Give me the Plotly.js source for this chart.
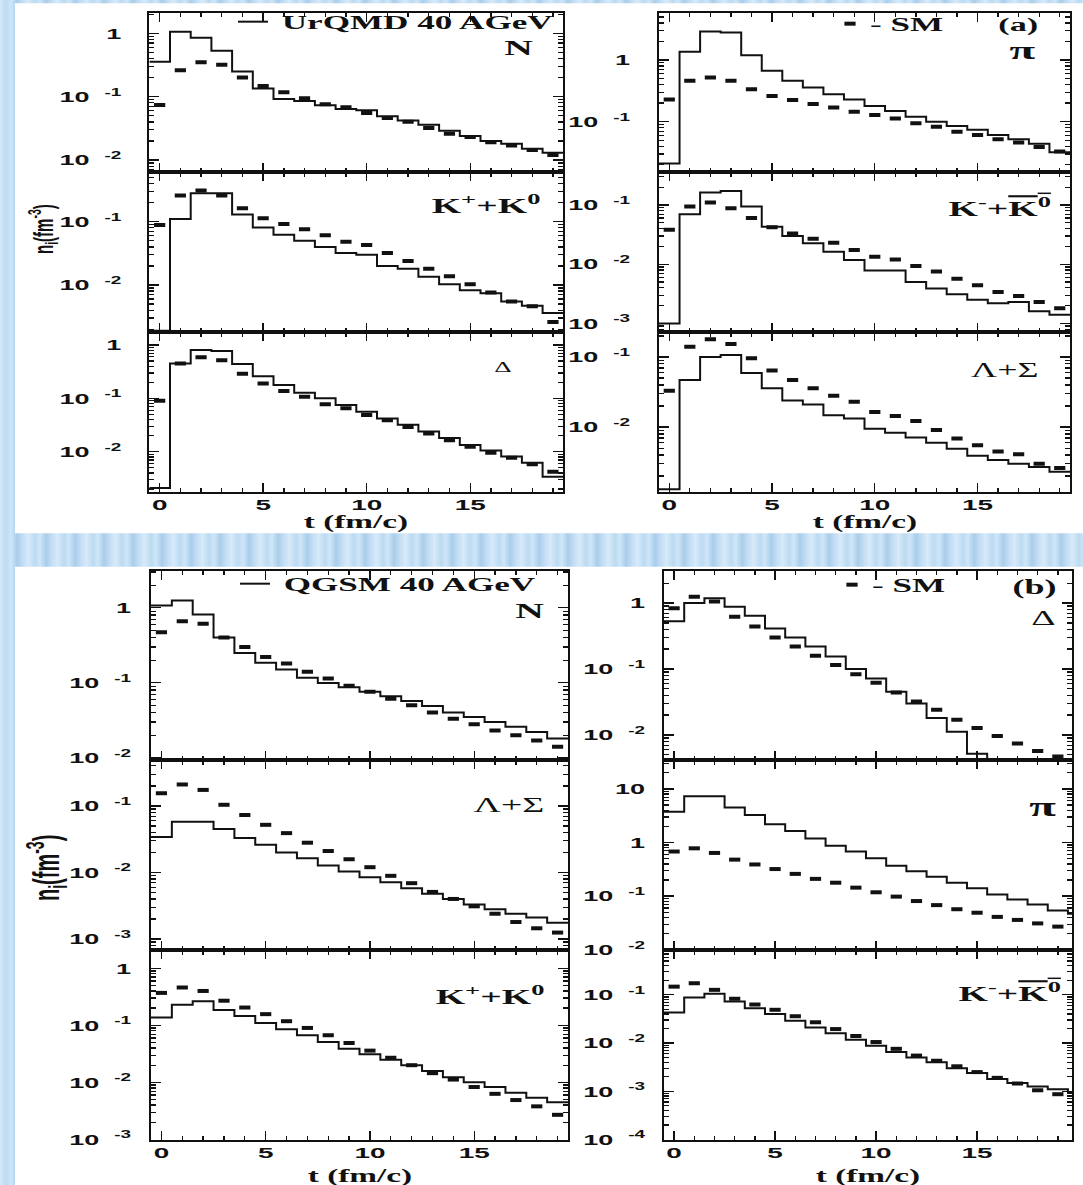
<!DOCTYPE html>
<html>
<head>
<meta charset="utf-8">
<script src="https://cdn.plot.ly/plotly-3.0.1.min.js"></script>
<style>
  html, body { margin: 0; padding: 0; }
  body {
    width: 1083px; height: 1185px; overflow: hidden;
    background: repeating-linear-gradient(90deg,
      #d4e9f9 0px, #bcdaf1 6px, #cfe6f8 11px, #a9cdeb 17px, #c4def4 23px, #d8ebfa 29px);
  }
  #fig { width: 1083px; height: 1185px; }
</style>
</head>
<body>
<div id="fig"></div>
<script>
// Time grid in fm/c; every histogram bin is 1 fm/c wide and centred on these values.
const T = [0, 1, 2, 3, 4, 5, 6, 7, 8, 9, 10, 11, 12, 13, 14, 15, 16, 17, 18, 19, 20];

// ---- (a) UrQMD 40 AGeV: transport densities (histograms) and SM values (points), fm^-3 ----
const urqmd_N     = [0.355, 1.06, 0.85, 0.53, 0.25, 0.135, 0.092, 0.085, 0.073, 0.064, 0.061, 0.049, 0.042, 0.036, 0.029, 0.024, 0.020, 0.018, 0.015, 0.013];
const smA_N       = [0.074, 0.26, 0.35, 0.32, 0.20, 0.147, 0.117, 0.094, 0.076, 0.068, 0.055, 0.046, 0.040, 0.032, 0.026, 0.023, 0.019, 0.017, 0.0144, 0.012];
const urqmd_pi    = [0.021, 1.36, 2.9, 2.8, 1.2, 0.67, 0.46, 0.36, 0.28, 0.23, 0.18, 0.149, 0.12, 0.10, 0.085, 0.074, 0.061, 0.052, 0.044, 0.032];
const smA_pi      = [0.23, 0.46, 0.52, 0.46, 0.335, 0.26, 0.225, 0.194, 0.17, 0.145, 0.128, 0.113, 0.094, 0.083, 0.069, 0.061, 0.052, 0.046, 0.039, 0.033];
const urqmd_Kp    = [0.0019, 0.11, 0.28, 0.28, 0.13, 0.081, 0.062, 0.050, 0.040, 0.032, 0.030, 0.020, 0.018, 0.0135, 0.0103, 0.0083, 0.0074, 0.0055, 0.0047, 0.0036];
const smA_Kp      = [0.089, 0.26, 0.31, 0.26, 0.163, 0.113, 0.092, 0.076, 0.061, 0.048, 0.043, 0.032, 0.024, 0.018, 0.0138, 0.0103, 0.0076, 0.0055, 0.0046, 0.0026];
const urqmd_Km    = [0.001, 0.070, 0.163, 0.173, 0.094, 0.043, 0.030, 0.0226, 0.0163, 0.0118, 0.0078, 0.0078, 0.0050, 0.0039, 0.0031, 0.0025, 0.0022, 0.0023, 0.0016, 0.0014];
const smA_Km      = [0.038, 0.094, 0.11, 0.088, 0.060, 0.042, 0.033, 0.027, 0.023, 0.0174, 0.0134, 0.012, 0.0093, 0.0075, 0.0057, 0.0044, 0.0034, 0.0029, 0.0023, 0.0018];
const urqmd_Delta = [0.0021, 0.45, 0.81, 0.77, 0.44, 0.26, 0.178, 0.128, 0.10, 0.075, 0.056, 0.042, 0.032, 0.024, 0.018, 0.0134, 0.0105, 0.0081, 0.0062, 0.0034];
const smA_Delta   = [0.090, 0.45, 0.59, 0.52, 0.29, 0.19, 0.138, 0.107, 0.078, 0.065, 0.049, 0.039, 0.029, 0.022, 0.0165, 0.0124, 0.0096, 0.0077, 0.0058, 0.0042];
const urqmd_LS    = [0.0013, 0.047, 0.10, 0.107, 0.059, 0.036, 0.024, 0.021, 0.0148, 0.0133, 0.0095, 0.0083, 0.0071, 0.0060, 0.0049, 0.0039, 0.0034, 0.0030, 0.0027, 0.0023];
const smA_LS      = [0.033, 0.14, 0.18, 0.154, 0.096, 0.064, 0.047, 0.036, 0.028, 0.023, 0.0165, 0.0144, 0.0122, 0.0091, 0.0069, 0.0055, 0.0045, 0.0041, 0.0030, 0.0026];

// ---- (b) QGSM 40 AGeV ----
const qgsm_N      = [1.07, 1.25, 0.81, 0.40, 0.25, 0.185, 0.15, 0.117, 0.099, 0.087, 0.076, 0.066, 0.057, 0.049, 0.040, 0.035, 0.030, 0.026, 0.022, 0.018];
const smB_N       = [0.47, 0.66, 0.61, 0.40, 0.30, 0.22, 0.18, 0.14, 0.114, 0.091, 0.076, 0.061, 0.050, 0.040, 0.033, 0.028, 0.023, 0.020, 0.017, 0.014];
const qgsm_Delta  = [0.53, 1.0, 1.18, 0.88, 0.64, 0.41, 0.30, 0.22, 0.154, 0.10, 0.072, 0.045, 0.030, 0.018, 0.0112, 0.0052, 0.0025, 0.0025, 0.0025, 0.0025, 0.0025];
const smB_Delta   = [0.83, 1.24, 1.05, 0.62, 0.44, 0.30, 0.22, 0.158, 0.115, 0.083, 0.062, 0.044, 0.032, 0.024, 0.017, 0.0127, 0.0096, 0.0074, 0.0057, 0.0047];
const qgsm_LS     = [0.034, 0.058, 0.058, 0.045, 0.033, 0.026, 0.020, 0.0163, 0.0127, 0.0103, 0.0085, 0.0071, 0.0058, 0.0048, 0.0040, 0.0033, 0.0028, 0.0024, 0.0021, 0.00175];
const smB_LS      = [0.155, 0.21, 0.174, 0.104, 0.073, 0.052, 0.039, 0.028, 0.021, 0.0158, 0.012, 0.0089, 0.0069, 0.0051, 0.0040, 0.0031, 0.0024, 0.0018, 0.00145, 0.00125];
const qgsm_pi     = [3.76, 7.3, 7.3, 4.5, 3.25, 2.19, 1.65, 1.19, 0.87, 0.68, 0.51, 0.37, 0.29, 0.23, 0.178, 0.14, 0.107, 0.087, 0.070, 0.054, 0.047];
const smB_pi      = [0.68, 0.78, 0.64, 0.48, 0.39, 0.32, 0.26, 0.21, 0.178, 0.144, 0.118, 0.098, 0.081, 0.068, 0.057, 0.049, 0.041, 0.036, 0.031, 0.027];
const qgsm_Kp     = [0.137, 0.23, 0.265, 0.185, 0.145, 0.11, 0.085, 0.067, 0.051, 0.039, 0.031, 0.025, 0.020, 0.0158, 0.0123, 0.010, 0.0083, 0.0066, 0.0054, 0.0045];
const smB_Kp      = [0.37, 0.46, 0.40, 0.27, 0.205, 0.157, 0.118, 0.090, 0.067, 0.049, 0.036, 0.027, 0.020, 0.0145, 0.0112, 0.0083, 0.0063, 0.0049, 0.0038, 0.0027];
const qgsm_Km     = [0.043, 0.088, 0.105, 0.073, 0.053, 0.040, 0.029, 0.021, 0.016, 0.0117, 0.0088, 0.0065, 0.0050, 0.0040, 0.0030, 0.0024, 0.0018, 0.00148, 0.00126, 0.0011, 0.00095];
const smB_Km      = [0.148, 0.174, 0.127, 0.083, 0.063, 0.049, 0.036, 0.027, 0.0195, 0.014, 0.0105, 0.0076, 0.0055, 0.0043, 0.0033, 0.0025, 0.0019, 0.00145, 0.00105, 0.00087];

// Axis tick labels
const X_MAJOR = [0, 5, 10, 15];
const X_LABELS = ['0', '5', '10', '15'];

// ---------------- presentation ----------------
const W = 1083, H = 1185;
const INK = '#111';
const SERIF = 'Liberation Serif, Times New Roman, serif';
const SANS = 'Liberation Sans, Arial, Helvetica, sans-serif';
const STRETCH = 1.8;          // the printed lettering is set wide
const px2x = p => p / W;
const px2y = p => 1 - p / H;

// frame edges in page pixels
const COLS = { aL: [149.3, 563.3], aR: [659, 1070], bL: [151, 568], bR: [664, 1072] };
const ROWS = { a: [[12.7, 172.3], [172.3, 332.3], [332.3, 492.3]],
               b: [[570.7, 760], [760, 950], [950, 1140]] };
const LABEL_GAP = { aL: 23, aR: 24, bL: 15, bR: 14 };
const XTITLE_Y = { a: 522.5, b: 1176 };

const KPLUS = 'K<sup>+</sup>+K<sup>0</sup>';
const KMINUS = 'K<sup>-</sup>+<span style="text-decoration:overline">K<sup>0</sup></span>';

const panels = [
  { fig: 'a', col: 'L', row: 0, model: urqmd_N, sm: smA_N, yr: [-2.194, 0.325],
    modelName: '\u00a0UrQMD 40 AGeV', modelLegend: 'legend',
    labels: [{ text: 'N', x: 0.932, y: 0.785, size: 22, bold: true }] },
  { fig: 'a', col: 'R', row: 0, model: urqmd_pi, sm: smA_pi, yr: [-1.82, 0.767], smLegend: 'legend2',
    labels: [{ text: '(a)', x: 0.927, y: 0.92, size: 19, bold: true },
             { text: '\u03c0', x: 0.92, y: 0.762, size: 26, bold: true }] },
  { fig: 'a', col: 'L', row: 1, model: urqmd_Kp, sm: smA_Kp, yr: [-2.747, -0.22],
    labels: [{ text: KPLUS, x: 0.9485, y: 0.796, size: 21, bold: true }] },
  { fig: 'a', col: 'R', row: 1, model: urqmd_Km, sm: smA_Km, yr: [-3.15, -0.448],
    labels: [{ text: KMINUS, x: 0.9586, y: 0.78, size: 21, bold: true }] },
  { fig: 'a', col: 'L', row: 2, model: urqmd_Delta, sm: smA_Delta, yr: [-2.76, 0.238], xlabels: true,
    labels: [{ text: '\u0394', x: 0.881, y: 0.783, size: 15, bold: false }] },
  { fig: 'a', col: 'R', row: 2, model: urqmd_LS, sm: smA_LS, yr: [-2.93, -0.647], xlabels: true,
    labels: [{ text: '\u039b+\u03a3', x: 0.927, y: 0.764, size: 20, bold: false }] },

  { fig: 'b', col: 'L', row: 0, model: qgsm_N, sm: smB_N, yr: [-2.03, 0.494],
    modelName: '\u00a0QGSM 40 AGeV', modelLegend: 'legend3',
    labels: [{ text: 'N', x: 0.947, y: 0.792, size: 22, bold: true }] },
  { fig: 'b', col: 'R', row: 0, model: qgsm_Delta, sm: smB_Delta, yr: [-2.38, 0.49], smLegend: 'legend4',
    labels: [{ text: '(b)', x: 0.966, y: 0.909, size: 20, bold: true },
             { text: '\u0394', x: 0.966, y: 0.75, size: 21, bold: false }] },
  { fig: 'b', col: 'L', row: 1, model: qgsm_LS, sm: smB_LS, yr: [-3.165, -0.31],
    labels: [{ text: '\u039b+\u03a3', x: 0.947, y: 0.763, size: 21, bold: false }] },
  { fig: 'b', col: 'R', row: 1, model: qgsm_pi, sm: smB_pi, yr: [-2.005, 1.54],
    labels: [{ text: '\u03c0', x: 0.966, y: 0.753, size: 27, bold: true }] },
  { fig: 'b', col: 'L', row: 2, model: qgsm_Kp, sm: smB_Kp, yr: [-3.01, 0.32], xlabels: true,
    labels: [{ text: KPLUS, x: 0.947, y: 0.763, size: 21, bold: true }] },
  { fig: 'b', col: 'R', row: 2, model: qgsm_Km, sm: smB_Km, yr: [-4.01, -0.07], xlabels: true,
    labels: [{ text: KMINUS, x: 0.978, y: 0.774, size: 21, bold: true }] }
];

// minor ticks of the log axes: 2..9 within every decade
const LOG_MINOR = [];
for (let e = -5; e <= 1; e++) for (let m = 2; m <= 9; m++) LOG_MINOR.push(m * Math.pow(10, e));

function decadeLabel(e) {
  if (e === 0) return '1';
  if (e === 1) return '10';
  return '10\u00a0\u00a0<sup>' + e + '</sup>';
}

const tickFont = { family: SANS, size: 15, color: INK, weight: 700 };

const traces = [];
const annotations = [];
const layout = {
  width: W, height: H,
  margin: { l: 0, r: 0, t: 0, b: 0 },
  paper_bgcolor: 'rgba(0,0,0,0)',
  plot_bgcolor: '#ffffff',
  showlegend: true,
  hovermode: false,
  font: { family: SANS, color: INK },
  shapes: [
    { type: 'rect', xref: 'paper', yref: 'paper', layer: 'below',
      x0: px2x(15), x1: 1, y0: px2y(533.3), y1: px2y(3.3), fillcolor: '#ffffff', line: { width: 0 } },
    { type: 'rect', xref: 'paper', yref: 'paper', layer: 'below',
      x0: px2x(15), x1: 1, y0: 0, y1: px2y(566.7), fillcolor: '#ffffff', line: { width: 0 } }
  ]
};

const legendBase = {
  xanchor: 'left', yanchor: 'middle', bgcolor: 'rgba(0,0,0,0)', borderwidth: 0,
  font: { family: SERIF, size: 19.5, color: INK, weight: 700 }
};
layout.legend  = Object.assign({ x: px2x(233), y: px2y(22) }, legendBase);
layout.legend2 = Object.assign({ x: px2x(830), y: px2y(24) }, legendBase);
layout.legend3 = Object.assign({ x: px2x(235), y: px2y(584) }, legendBase);
layout.legend4 = Object.assign({ x: px2x(832), y: px2y(585) }, legendBase);

panels.forEach((p, k) => {
  const i = k + 1;
  const xa = i === 1 ? 'x' : 'x' + i;
  const ya = i === 1 ? 'y' : 'y' + i;
  const colKey = p.fig + p.col;
  const cx = COLS[colKey];
  const ry = ROWS[p.fig][p.row];
  const xr = (p.fig === 'b' && p.col === 'R') ? [-0.5, 19.7] : [-0.5, 19.5];

  // histogram outline: bin edges at t +- 0.5
  const nb = p.model.length;
  const edges = T.slice(0, nb).map(t => t - 0.5).concat([T[nb - 1] + 0.5]);
  const levels = p.model.concat([p.model[nb - 1]]);
  traces.push({
    type: 'scatter', mode: 'lines', x: edges, y: levels, xaxis: xa, yaxis: ya,
    line: { shape: 'hv', color: INK, width: 2 },
    name: p.modelName || 'model', showlegend: !!p.modelLegend, legend: p.modelLegend || 'legend',
    hoverinfo: 'skip'
  });
  traces.push({
    type: 'scatter', mode: 'markers', x: T.slice(0, p.sm.length), y: p.sm, xaxis: xa, yaxis: ya,
    marker: { symbol: 'line-ew', size: 8, color: INK, line: { width: 4, color: INK } },
    name: '- SM', showlegend: !!p.smLegend, legend: p.smLegend || 'legend',
    hoverinfo: 'skip'
  });

  const frame = {
    showline: true, linewidth: 2, linecolor: INK, mirror: 'allticks',
    ticks: 'inside', tickcolor: INK, tickwidth: 1.3,
    showgrid: false, zeroline: false, fixedrange: true
  };

  layout[i === 1 ? 'xaxis' : 'xaxis' + i] = Object.assign({}, frame, {
    domain: [px2x(cx[0]), px2x(cx[1])], anchor: ya, range: xr, type: 'linear',
    ticklen: 9, tickmode: 'array', tickvals: X_MAJOR, ticktext: X_LABELS,
    minor: { ticks: 'inside', ticklen: 4.5, tickwidth: 1.3, tickcolor: INK, tickmode: 'array', tickvals: T },
    showticklabels: !!p.xlabels, tickfont: Object.assign({}, tickFont, { size: 15.5 }),
    ticklabelstandoff: -3
  });

  const decades = [];
  for (let e = Math.ceil(p.yr[0] - 1e-9); e <= Math.floor(p.yr[1] + 1e-9); e++) decades.push(e);
  layout[i === 1 ? 'yaxis' : 'yaxis' + i] = Object.assign({}, frame, {
    domain: [px2y(ry[1]), px2y(ry[0])], anchor: xa, type: 'log', range: p.yr,
    ticklen: 10, tickmode: 'array',
    tickvals: decades.map(e => Math.pow(10, e)), ticktext: decades.map(decadeLabel),
    minor: { ticks: 'inside', ticklen: 5, tickwidth: 1.3, tickcolor: INK, tickmode: 'array', tickvals: LOG_MINOR },
    tickfont: tickFont, ticklabelstandoff: LABEL_GAP[colKey]
  });

  p.labels.forEach(l => annotations.push({
    xref: xa + ' domain', yref: ya + ' domain', x: l.x, y: l.y,
    xanchor: 'right', align: 'right', yanchor: 'middle', showarrow: false,
    text: l.text, font: { family: SERIF, size: l.size, color: INK, weight: l.bold ? 700 : 400 }
  }));

  // time-axis title under the bottom row of each figure
  if (p.xlabels) annotations.push({
    xref: xa + ' domain', yref: 'paper', x: 0.5, y: px2y(XTITLE_Y[p.fig]),
    xanchor: 'center', yanchor: 'middle', showarrow: false, text: 't (fm/c)',
    font: { family: SERIF, size: 18.5, color: INK, weight: 700 }
  });
});

// vertical axis titles of the two figures
annotations.push({ xref: 'paper', yref: 'paper', x: px2x(42), y: px2y(229), textangle: -90,
  xanchor: 'center', yanchor: 'middle', showarrow: false, text: 'n<sub>i</sub>(fm<sup>-3</sup>)',
  font: { family: SANS, size: 15, color: INK, weight: 700 } });
annotations.push({ xref: 'paper', yref: 'paper', x: px2x(46), y: px2y(868), textangle: -90,
  xanchor: 'center', yanchor: 'middle', showarrow: false, text: 'n<sub>i</sub>(fm<sup>-3</sup>)',
  font: { family: SANS, size: 20, color: INK, weight: 700 } });
layout.annotations = annotations;

// Widen every piece of lettering horizontally about its anchor point.
function widenText(gd) {
  gd.querySelectorAll('.infolayer [clip-path]').forEach(n => n.removeAttribute('clip-path'));
  gd.querySelectorAll('svg text').forEach(el => {
    const cur = el.getAttribute('transform') || '';
    if (el.__wide === cur) return;
    if (!el.textContent.trim()) return;
    const b = el.getBBox();
    let rotated = false;
    for (let n = el.parentNode; n && n !== gd; n = n.parentNode) {
      const t = n.getAttribute && n.getAttribute('transform');
      if (t && /rotate\(\s*-?90/.test(t)) { rotated = true; break; }
    }
    let tf;
    if (rotated) {
      const cy = b.y + b.height / 2;
      tf = 'translate(0,' + cy + ') scale(1,' + STRETCH + ') translate(0,' + (-cy) + ')';
    } else {
      let ax = parseFloat(el.getAttribute('x'));
      if (!isFinite(ax)) {
        const a = el.getAttribute('text-anchor') || 'start';
        ax = a === 'end' ? b.x + b.width : (a === 'middle' ? b.x + b.width / 2 : b.x);
      }
      tf = 'translate(' + ax + ',0) scale(' + STRETCH + ',1) translate(' + (-ax) + ',0)';
    }
    const next = (cur ? cur + ' ' : '') + tf;
    el.setAttribute('transform', next);
    el.__wide = next;
  });
}

const gd = document.getElementById('fig');
Plotly.newPlot(gd, traces, layout, { displayModeBar: false, staticPlot: true, responsive: false })
  .then(() => {
    widenText(gd);
    gd.on('plotly_afterplot', () => widenText(gd));
  });
</script>
</body>
</html>
